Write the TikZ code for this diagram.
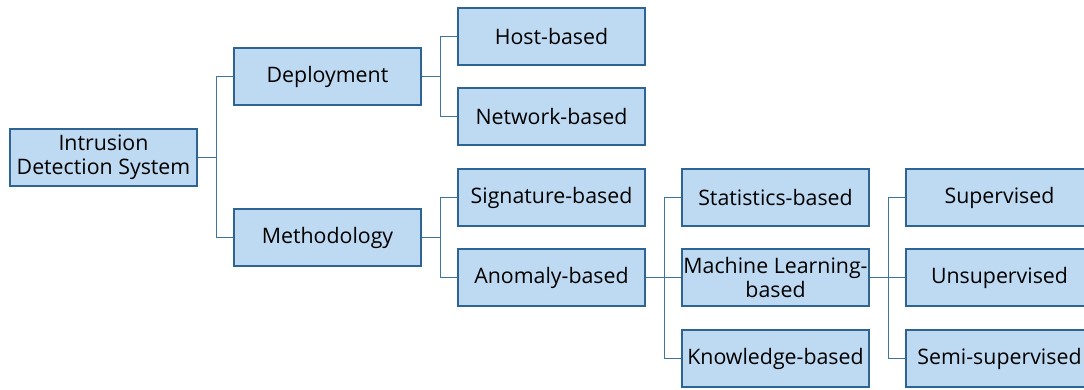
\documentclass[tikz,border=0pt]{standalone}
\usepackage{fontspec}
\setmainfont{Open Sans}
\definecolor{boxfill}{RGB}{189,218,242}
\definecolor{boxdraw}{RGB}{46,100,145}
\definecolor{linkcol}{RGB}{60,118,160}
\begin{document}
\begin{tikzpicture}[x=0.75pt,y=-0.75pt,
  box/.style={draw=boxdraw,fill=boxfill,line width=1.4pt,minimum width=140.25pt,minimum height=42.75pt,inner sep=0pt,align=center,font=\fontsize{16pt}{18pt}\selectfont},
  link/.style={draw=linkcol,line width=1.3pt}]
\useasboundingbox (0,0) rectangle (1084,389);
\clip (0,0) rectangle (1084,389);
\node[box] (ids) at (103.5,157.5) {Intrusion\\Detection System};
\node[box] (dep) at (327.5,76.5) {Deployment};
\node[box] (meth) at (327.5,237.5) {Methodology};
\node[box] (host) at (551.5,36.5) {Host-based};
\node[box] (net) at (551.5,116.5) {Network-based};
\node[box] (sig) at (551.5,197.5) {Signature-based};
\node[box] (anom) at (551.5,277.5) {Anomaly-based};
\node[box] (stat) at (775.5,197.5) {Statistics-based};
\node[box] (ml) at (775.5,277.5) {Machine Learning-\\based};
\node[box] (know) at (775.5,358.5) {Knowledge-based};
\node[box] (sup) at (999.5,197.5) {Supervised};
\node[box] (unsup) at (999.5,277.5) {Unsupervised};
\node[box] (semi) at (999.5,358.5) {Semi-supervised};
\draw[link] (ids.east) -- +(18.5,0) |- (dep.west);
\draw[link] (ids.east) -- +(18.5,0) |- (meth.west);
\draw[link] (dep.east) -- +(18.5,0) |- (host.west);
\draw[link] (dep.east) -- +(18.5,0) |- (net.west);
\draw[link] (meth.east) -- +(18.5,0) |- (sig.west);
\draw[link] (meth.east) -- +(18.5,0) |- (anom.west);
\draw[link] (anom.east) -- +(18.5,0) |- (stat.west);
\draw[link] (anom.east) -- (ml.west);
\draw[link] (anom.east) -- +(18.5,0) |- (know.west);
\draw[link] (ml.east) -- +(18.5,0) |- (sup.west);
\draw[link] (ml.east) -- (unsup.west);
\draw[link] (ml.east) -- +(18.5,0) |- (semi.west);
\end{tikzpicture}
\end{document}
